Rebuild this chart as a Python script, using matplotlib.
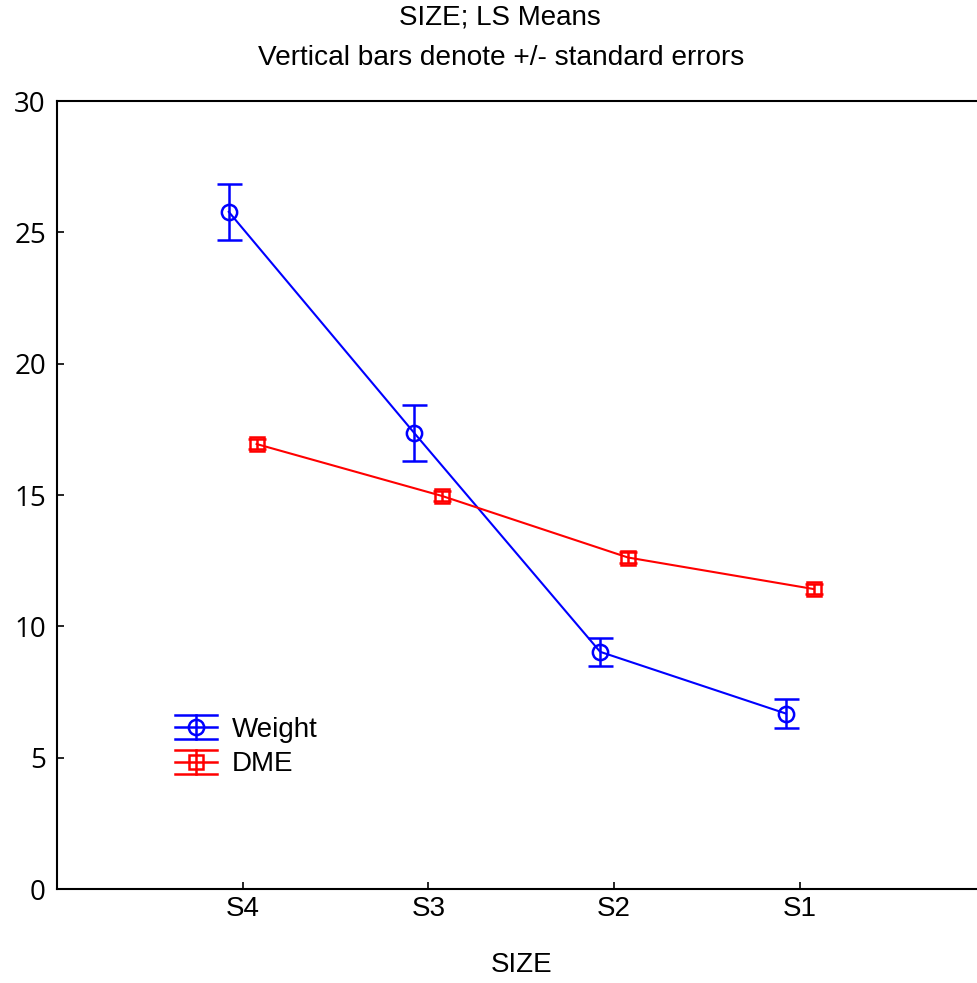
import matplotlib as mpl
import matplotlib.pyplot as plt
import numpy as np
from matplotlib.legend_handler import HandlerBase
from matplotlib.lines import Line2D

mpl.rcParams['font.family'] = ['Liberation Sans', 'DejaVu Sans']

# data
sizes = ['S4', 'S3', 'S2', 'S1']
weight_mean = [25.78, 17.35, 9.03, 6.68]
weight_se = [1.07, 1.07, 0.53, 0.54]
dme_mean = [16.94, 14.96, 12.62, 11.42]
dme_se = [0.2, 0.2, 0.2, 0.2]

xpos = np.arange(1, len(sizes) + 1)
off = 0.075


# legend key: line + marker with full-width caps above and below
class HandlerErr(HandlerBase):
    def __init__(self, marker, ms, color):
        super().__init__()
        self.marker, self.ms, self.color = marker, ms, color

    def create_artists(self, legend, orig_handle, xdescent, ydescent,
                       width, height, fontsize, trans):
        yc = height / 2 - ydescent
        dy = height * 0.62
        arts = []
        for y in (yc - dy, yc, yc + dy):
            arts.append(Line2D([-xdescent, width - xdescent], [y, y],
                               color=self.color, lw=1.8, transform=trans))
        xc = width / 2 - xdescent
        arts.append(Line2D([xc, xc], [yc - dy, yc + dy], color=self.color,
                           lw=1.8, transform=trans))
        arts.append(Line2D([xc], [yc], marker=self.marker, ms=self.ms,
                           mfc='none', mec=self.color, mew=1.8, transform=trans))
        return arts


fig = plt.figure(figsize=(9.77, 9.83), dpi=100)
ax = fig.add_axes([57 / 977, 94 / 983, 928.5 / 977, 788 / 983])

h1 = ax.errorbar(xpos - off, weight_mean, yerr=weight_se, color='blue', lw=1.5,
                 marker='o', ms=11, mfc='none', mec='blue', mew=1.8,
                 capsize=9, capthick=1.8, elinewidth=1.8, label='Weight')
h2 = ax.errorbar(xpos + off, dme_mean, yerr=dme_se, color='red', lw=1.5,
                 marker='s', ms=9.5, mfc='none', mec='red', mew=1.8,
                 capsize=6.5, capthick=1.8, elinewidth=1.8, label='DME')

ax.set_xlim(0, 5)
ax.set_ylim(0, 30)
ax.set_xticks(xpos)
ax.set_xticklabels(sizes)
ax.set_yticks(np.arange(0, 31, 5))
ax.tick_params(direction='in', length=5, width=1.2, labelsize=20, pad=8)
ax.tick_params(axis='x', pad=5)
for lab in ax.get_yticklabels():
    lab.set_family(['Open Sans', 'DejaVu Sans'])
for sp in ax.spines.values():
    sp.set_linewidth(1.5)

ax.set_xlabel('SIZE', fontsize=20, labelpad=22)

fig.text(500 / 977, 1 - 18 / 983, 'SIZE; LS Means', ha='center', va='center', fontsize=20)
fig.text(501 / 977, 1 - 58 / 983, 'Vertical bars denote +/- standard errors',
         ha='center', va='center', fontsize=20.2)

ax.legend([h1, h2], ['Weight', 'DME'], loc='center left',
          bbox_to_anchor=(0.1, 0.18), frameon=False, fontsize=20,
          handlelength=1.5, handletextpad=0.55, labelspacing=0.3,
          handler_map={h1: HandlerErr('o', 11, 'blue'),
                       h2: HandlerErr('s', 9.5, 'red')})

plt.savefig('out.png', dpi=100)
